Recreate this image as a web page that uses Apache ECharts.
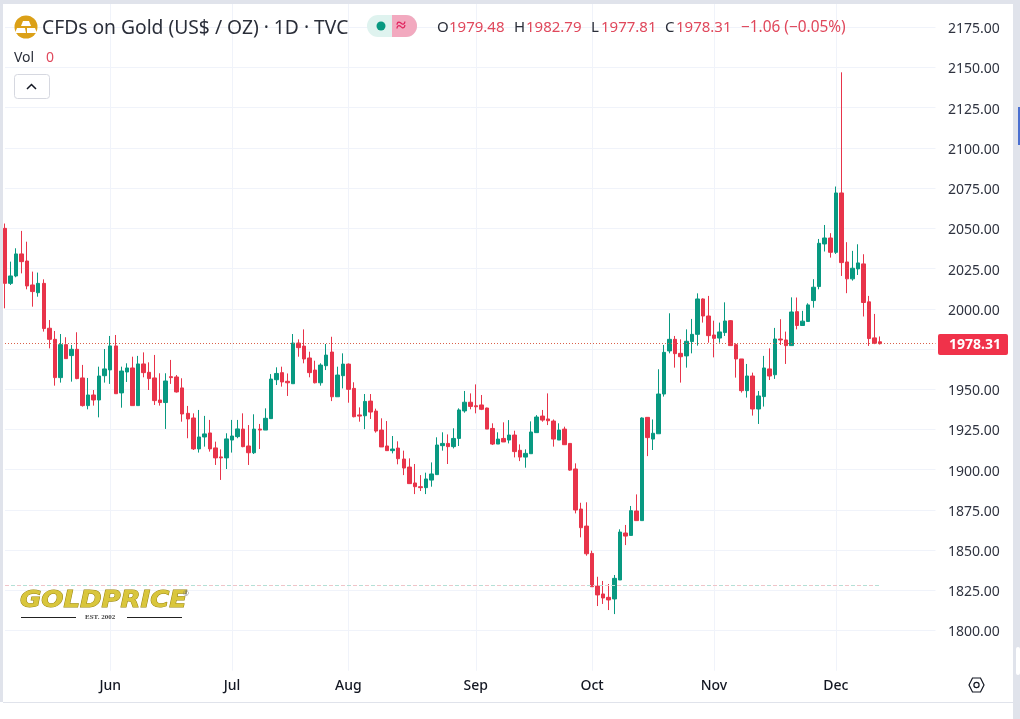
<!DOCTYPE html>
<html><head><meta charset="utf-8">
<style>html,body{margin:0;padding:0;background:#fff;overflow:hidden}#c{width:1020px;height:719px}</style>
<script src="https://cdn.jsdelivr.net/npm/echarts@6/dist/echarts.min.js"></script>
</head><body><div id="c"></div>
<script>
const opens=[2050,2015.8,2020.4,2034.1,2029.7,2014.8,2010,2015.8,1987.9,1981,
1957.2,1977.7,1970.9,1974.8,1957,1939.8,1946.4,1943.3,1958.4,1962,
1976.9,1947.7,1960.7,1963.2,1939.8,1965.7,1960.5,1957,1943.3,1941.7,
1957.8,1957.6,1950.8,1935,1932.1,1912.9,1920.3,1922.8,1913.5,1907.9,
1907.3,1918.4,1920.5,1925.2,1914.7,1910.5,1925.2,1924.6,1931.7,1955.9,
1960.3,1954.9,1953.4,1978.7,1976.8,1969.4,1961.9,1954,1964.6,1973.1,
1945.3,1958.4,1965.6,1950.5,1934,1933.5,1942.6,1936.4,1924.6,1914.7,
1911.8,1913.4,1906.6,1901.6,1891.7,1889.4,1888.8,1893.5,1896.9,1914.9,
1916.3,1914.3,1919.4,1936.5,1941.9,1939.7,1940.2,1938.3,1925.6,1915.9,
1919.4,1918.4,1921.5,1912,1907.8,1909.9,1923,1933.3,1931.5,1930.2,
1918.4,1925.2,1916.3,1900.4,1875.5,1864.9,1847.9,1827.6,1822.7,1820.6,
1819.6,1831.4,1860.6,1859.1,1874.3,1868.3,1932.5,1919,1922.3,1947,
1973.8,1981,1972.3,1970.7,1979.6,1984.1,2006.1,1995.5,1983.7,1981.8,
1985.2,1992.6,1977.7,1968.8,1949.1,1958.2,1937.7,1945.4,1962.6,1959,
1981.2,1980.6,1977.1,1998.2,1989.6,1992.1,2005.1,2013.8,2040.3,2044,
2035.1,2072,2029.1,2018.6,2024.8,2027.9,2004.3,1981.9,1979.48];
const closes=[2015.8,2020.4,2034.1,2029.3,2014.2,2010.7,2015.8,1987.7,1981,1957.2,
1977.7,1969,1974.8,1956.6,1939.8,1946.4,1943.3,1958.2,1962.6,1976.9,
1947.2,1961.3,1963.2,1939.8,1965.7,1960.3,1956.6,1942.9,1941.7,1955.1,
1957.2,1948.3,1934.6,1931.5,1912.9,1920.3,1922.2,1912.9,1907.3,1907.3,
1919.1,1920.9,1925.3,1914.3,1910.5,1925.2,1924.6,1931.9,1956.3,1959.8,
1954.5,1954,1978.7,1975.8,1968.8,1960.3,1954,1965,1971.2,1945.3,
1958.8,1965.6,1949.9,1932.9,1933.3,1942.4,1935.8,1924,1914.1,1911.8,
1912.8,1906.8,1901,1891.3,1889.4,1888.8,1894.2,1897.3,1915.3,1916.3,
1914.3,1919.4,1937.1,1941.9,1939.3,1939.1,1937.5,1925.2,1915.9,1919,
1917.2,1921.5,1911.2,1907.8,1910.1,1923.4,1932.7,1930.8,1930.4,1919,
1924.6,1915.5,1899.7,1874.9,1863.9,1847.7,1827.2,1822.1,1820.2,1819,
1832.4,1861.2,1858.7,1874.5,1868.3,1932.1,1919.9,1922.6,1947,1972.9,
1981,1972.1,1970.2,1979.8,1984.1,2006.1,1995.5,1983.3,1981.6,1985.6,
1992.4,1977.1,1968.8,1949.1,1958.2,1937.7,1945.8,1963.2,1958.2,1981.2,
1980.6,1977.1,1998,1989.6,1992.3,2002.4,2013.4,2040.7,2044,2035.1,
2072,2028.7,2018.6,2025.2,2028.5,2003.9,1981.5,1978.6,1978.31];
const lows=[2000.3,2014.8,2019.6,2022,2012.1,2001.3,2007.5,1985.8,1975.4,1952.2,
1954.1,1969,1954.7,1956.2,1939.2,1937.5,1939.8,1932.5,1954.1,1953.3,
1947.2,1938.5,1954.5,1939.8,1939.8,1957.4,1949.5,1940.2,1939.8,1925.3,
1953.3,1947.9,1929.8,1919.5,1912.2,1910.6,1914.3,1911.2,1902.9,1893.6,
1900.4,1910.6,1919.5,1913.9,1902.9,1909.7,1912.8,1924.6,1931.7,1952.6,
1951.6,1945.8,1953.4,1970.2,1966.1,1957.4,1953.6,1952.2,1961.9,1942.6,
1945.3,1950.5,1941.6,1932.5,1929.8,1925.2,1931.5,1923,1914.1,1911.8,
1910.1,1903.3,1896.6,1891.1,1884.8,1886.7,1884.8,1889.4,1896.9,1911.8,
1903.5,1913.2,1914.7,1935.4,1937.5,1935,1937,1925.2,1915.3,1915.9,
1917.2,1916.3,1907.6,1905.3,1901.2,1909.9,1923,1929.8,1927.7,1914.3,
1918.4,1915.5,1899.3,1872.8,1857.9,1846.5,1827.2,1815.2,1816.5,1812.7,
1810.2,1831.4,1853.1,1859.1,1868.3,1868.3,1908.4,1912.2,1922.3,1945.4,
1972.3,1963.4,1954.1,1963.4,1972.3,1977.1,1991.4,1978.9,1969.8,1978.9,
1983.1,1977.1,1957.2,1947.9,1944.8,1933.6,1928.4,1939.2,1955.7,1956.4,
1977.5,1965.7,1977.1,1987.2,1989.6,1992.1,2000.7,2012.1,2035.6,2031.8,
2034.1,2020.4,2009.7,2017.5,2021,1995.2,1976.9,1978,1977.81];
const highs=[2053,2029.3,2037.6,2048.4,2041.7,2023.1,2022.5,2018.3,1993,1986.2,
1984.3,1982.3,1977.5,1985.4,1965.1,1957,1949.5,1964,1975,1983.1,
1983.7,1964,1966.1,1970.2,1970.7,1972.9,1966.7,1971.3,1959.9,1959.9,
1968.2,1958.8,1956.8,1939.6,1935,1937.1,1933.4,1930.9,1917.4,1912.6,
1922.6,1930.9,1930.9,1935,1927.7,1934.4,1928.4,1938.1,1959.4,1963.6,
1964,1959.8,1984.3,1981,1987.2,1973.3,1967.7,1966.1,1978.1,1982.6,
1964,1972.3,1966,1954.3,1938.7,1947,1947,1937.9,1931.9,1930.2,
1920.9,1917.6,1911.8,1907,1903.5,1896.6,1898.1,1904.5,1920.1,1923.2,
1921.9,1925.7,1938.1,1948.9,1947.4,1953,1946.4,1938.5,1928.8,1923.2,
1929.4,1930.8,1924.2,1915.7,1912.6,1930,1933.9,1937.1,1947.4,1931.2,
1928.8,1926.7,1916.3,1903.9,1879.4,1879.7,1849.6,1833.4,1830.8,1828.9,
1834.5,1862.9,1865.6,1877.4,1884.6,1932.5,1932.5,1931.2,1962.4,1977.5,
1997.2,1983.1,1981,1987.2,1993.7,2009.6,2006.5,2008,1992.6,1991.4,
2004,1993,1978.5,1968.8,1965.7,1960.3,1948.9,1970.7,1975.4,1988.1,
1993.5,1985.8,2007.1,2007,1998.7,2003.4,2018.4,2043.4,2052.1,2047,
2076,2147,2041.4,2036,2040.1,2033.9,2008,1996.8,1982.79];
const monthNames=['Jun','Jul','Aug','Sep','Oct','Nov','Dec'];
const monthIndex=[19,41,62,85,106,128,150];
const lastPrice=1978.31, lowLevel=1828, slotCount=169;
const titleText='CFDs on Gold (US$ / OZ) · 1D · TVC';

const categories=Array.from({length:slotCount},(_,i)=>{const k=monthIndex.indexOf(i);return k>=0?monthNames[k]:'';});
const candles=opens.map((o,i)=>[o,closes[i],lows[i],highs[i]]);
const UP='#089981',DOWN='#e8344a',GRID='#f0f3fa',DARK='#2a2e39',RED='#e0485c';
const font='"Noto Sans"';
const isMonth=(i,n)=>n!=='';
const chart=echarts.init(document.getElementById('c'),null,{renderer:'canvas'});
const txt=(x,y,t,fill,size,extra)=>({type:'text',z:50,x,y,style:Object.assign({text:t,fill,font:(size||14)+'px '+font,textVerticalAlign:'middle'},extra||{})});
const rect=(x,y,w,h,fill,r,stroke)=>({type:'rect',z:40,shape:{x,y,width:w,height:h,r:r||0},style:{fill,stroke:stroke||null}});
chart.setOption({
 animation:false,backgroundColor:'#fff',
 grid:{left:5,right:84.5,top:3.15,bottom:48.3,containLabel:false},
 xAxis:{type:'category',data:categories,boundaryGap:false,
  axisLine:{show:false},axisTick:{show:false},
  axisLabel:{interval:isMonth,color:'#131722',fontFamily:font,fontSize:14,fontWeight:500,margin:8},
  splitLine:{show:true,interval:isMonth,lineStyle:{color:GRID,width:1}}},
 yAxis:{type:'value',position:'right',min:1775,max:2190,interval:25,
  axisLine:{show:false},axisTick:{show:false},
  axisLabel:{color:'#2f3340',fontFamily:font,fontSize:14,margin:12.5,showMinLabel:false,showMaxLabel:false,formatter:v=>'{p|'+v.toFixed(2)+'}',
   rich:{p:{color:'#2f3340',fontFamily:font,fontSize:14,padding:[4,0,0,0]}}},
  splitLine:{show:true,showMinLine:false,showMaxLine:false,lineStyle:{color:GRID,width:1}}},
 series:[{type:'candlestick',data:candles,clip:false,barWidth:4,z:3,
  itemStyle:{color:UP,color0:DOWN,borderColor:UP,borderColor0:DOWN,borderWidth:1},
  markLine:{silent:true,symbol:'none',animation:false,label:{show:false},
   data:[
    [{coord:[0,lastPrice],lineStyle:{color:'#d9604a',type:[1,2],width:1}},{coord:[slotCount-1,lastPrice]}],
    [{coord:[0,lowLevel],lineStyle:{color:'#f0c4c9',type:[4,8],width:1}},{coord:[158,lowLevel]}],
    [{coord:[0,lowLevel],lineStyle:{color:'#b4e0d6',type:[4,8],dashOffset:6,width:1}},{coord:[158,lowLevel]}]
   ]}}],
 graphic:{elements:[
  rect(0,0,1020,4,'#e0e3eb'),
  rect(0,0,3,702,'#e0e3eb'),
  rect(1013,0,7,719,'#e0e3eb'),
  rect(3,702,1010,1,'#e0e3eb'),
  rect(1018,107,2,38,'#4a6fd0'),
  rect(1016,647,4,28,'#ffffff',2),
  // header
  {type:'circle',z:40,shape:{cx:26,cy:27,r:11.5},style:{fill:'#dba017'}},
  {type:'polygon',z:41,shape:{points:[[23,21],[29,21],[31,26],[21,26]]},style:{fill:'#fff'}},
  {type:'polygon',z:41,shape:{points:[[17,28],[25,28],[26,33],[15,33]]},style:{fill:'#fff'}},
  {type:'polygon',z:41,shape:{points:[[27,28],[35,28],[37,33],[27,33]]},style:{fill:'#fff'}},
  txt(42,28.5,titleText,'#2a2e39',19.25),
  rect(367,15,50,22,'#dff3ef',11),
  rect(392,15,25,22,'#f2a9bf',[0,11,11,0]),
  {type:'circle',z:42,shape:{cx:381,cy:26,r:4.5},style:{fill:UP}},
  txt(396,26,'≈','#e0245e',18,{font:'bold 18px '+font}),
  txt(437,28,'O',DARK,15),txt(449,28,'1979.48',RED,15),
  txt(514,28,'H',DARK,15),txt(526,28,'1982.79',RED,15),
  txt(591,28,'L',DARK,15),txt(601,28,'1977.81',RED,15),
  txt(665,28,'C',DARK,15),txt(676,28,'1978.31',RED,15),
  txt(741,28,'−1.06 (−0.05%)',RED,15.4),
  txt(14,58,'Vol',DARK,14),txt(46,58,'0',RED,14),
  {type:'rect',z:40,shape:{x:14.5,y:74.5,width:35,height:24,r:3},style:{fill:'#fff',stroke:'#d6d8e0'}},
  {type:'polyline',z:41,shape:{points:[[27,89],[31.5,84.5],[36,89]]},style:{fill:null,stroke:'#131722',lineWidth:1.5}},
  // price tag
  rect(938,334,70,21,'#f0324a',2),
  txt(949,345.5,'1978.31','#fff',14,{font:'bold 14px '+font}),
  // hexagon icon
  {type:'polygon',z:41,shape:{points:[[969,685],[972.5,678],[980.5,678],[984,685],[980.5,692],[972.5,692]]},style:{fill:null,stroke:'#131722',lineWidth:1.2}},
  {type:'circle',z:41,shape:{cx:976.5,cy:685,r:2.6},style:{fill:null,stroke:'#131722',lineWidth:1.2}},
  // logo
  {type:'text',z:45,x:20,y:601,scaleX:1.13,style:{text:'GOLDPRICE',fill:'#d9c63c',stroke:'#9a8610',lineWidth:1,font:'italic bold 23px "DejaVu Sans"',textVerticalAlign:'middle'}},
  txt(183,594,'®','#777',7),
  rect(21,617,55,1,'#222'),rect(127,617,55,1,'#222'),
  txt(85,617,'EST. 2002','#444',7,{font:'bold 7px "Liberation Serif"'})
 ]}
});
</script></body></html>
